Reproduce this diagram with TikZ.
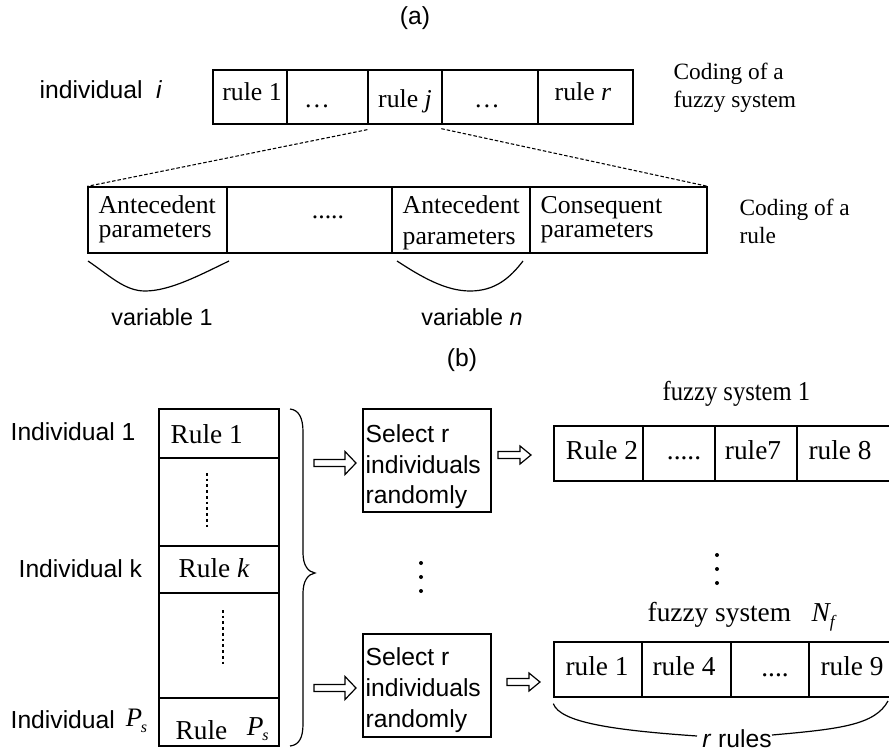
\documentclass[tikz,border=0pt]{standalone}
\usepackage{fontspec}
\setmainfont{Liberation Serif}
\setsansfont{Liberation Sans}
\usetikzlibrary{fit}
\newcommand{\myPs}{\textit{P}\kern-1pt\raisebox{-4pt}{\fontsize{12}{12}\selectfont\textit{s}}}
\newcommand{\myNf}{\textit{N}\kern-1pt\raisebox{-5pt}{\fontsize{13}{13}\selectfont\textit{f}}}
\newcommand{\hollowarrow}[5]{%
  \draw[line width=0.9pt,fill=white] (#1,{#3-3.5}) -- ({#2-#4},{#3-3.5}) -- ({#2-#4},{#3-#5}) -- (#2,#3)
    -- ({#2-#4},{#3+#5}) -- ({#2-#4},{#3+3.5}) -- (#1,{#3+3.5}) -- cycle;}
\begin{document}
\begin{tikzpicture}[x=0.75pt,y=-0.75pt,line width=1pt,
  cell/.style={draw,inner sep=0pt,line width=1pt},
  sanslbl/.style={font=\fontsize{18.5}{22}\selectfont\sffamily,inner sep=0pt},
  smallsans/.style={font=\fontsize{17.5}{22}\selectfont\sffamily,inner sep=0pt},
  toptxt/.style={font=\fontsize{19.3}{22}\selectfont,inner sep=0pt},
  bottxt/.style={font=\fontsize{20.5}{22}\selectfont,inner sep=0pt},
  codetxt/.style={font=\fontsize{17.5}{22}\selectfont,inner sep=0pt,anchor=base west},
  dashedline/.style={line width=0.8pt,dash pattern=on 2.6pt off 1.5pt},
  dotline/.style={line width=2.1pt,dash pattern=on 2pt off 2.3pt},
  edot/.style={fill=black,circle,inner sep=0pt,minimum size=3pt}]
\useasboundingbox (0,0) rectangle (889,753);
\clip (0,0) rectangle (889,753);

% ---------- (a) ----------
\node[sanslbl,anchor=base] (la) at (415,24) {(a)};
\node[sanslbl,anchor=base west] (indi) at (39,98) {individual\ \ \textit{i}};

\node[cell,fit={(213,70)(287,124)}] (t1) {};
\node[cell,fit={(287,70)(368,124)}] (t2) {};
\node[cell,fit={(368,70)(442,124)}] (t3) {};
\node[cell,fit={(442,70)(538,124)}] (t4) {};
\node[cell,fit={(538,70)(633,124)}] (t5) {};
\node[toptxt,anchor=base] (t1l) at (252,100) {rule 1};
\node[toptxt,anchor=base] (t2l) at (317,107) {\dots};
\node[toptxt,anchor=base] (t3l) at (405,107) {rule \textit{j}};
\node[toptxt,anchor=base] (t4l) at (487,107) {\dots};
\node[toptxt,anchor=base] (t5l) at (583,100) {rule \textit{r}};
\node[codetxt] (cf1) at (673,79) {Coding of a};
\node[codetxt] (cf2) at (673,107) {fuzzy system};

\node[cell,fit={(88,187)(227,253)}] (a1) {};
\node[cell,fit={(227,187)(392,253)}] (a2) {};
\node[cell,fit={(392,187)(530,253)}] (a3) {};
\node[cell,fit={(530,187)(707,253)}] (a4) {};
\node[toptxt,anchor=base west] (a1l1) at (98,213) {Antecedent};
\node[toptxt,anchor=base west] (a1l2) at (98,237) {parameters};
\node[toptxt,anchor=base] (a2l) at (328,218) {.....};
\node[toptxt,anchor=base west] (a3l1) at (402,213) {Antecedent};
\node[toptxt,anchor=base west] (a3l2) at (402,244) {parameters};
\node[toptxt,anchor=base west] (a4l1) at (540,213) {Consequent};
\node[toptxt,anchor=base west] (a4l2) at (540,237) {parameters};
\node[codetxt] (cr1) at (739,215) {Coding of a};
\node[codetxt] (cr2) at (739,243) {rule};

\draw[dashedline] (t3.south west) ++(0,5) -- (a1.north west);
\draw[dashedline] (t4.south west) ++(0,4) -- (a4.north east);

\draw[line width=0.9pt] (88,261) .. controls (110,276) and (125,291) .. (145,291)
   .. controls (170,291) and (200,275) .. (229,261);
\draw[line width=0.9pt] (397,261) .. controls (420,276) and (445,291) .. (470,291)
   .. controls (495,291) and (510,278) .. (523,261);
\node[smallsans,anchor=base] (v1) at (162,325) {variable 1};
\node[smallsans,anchor=base] (vn) at (472,325) {variable \textit{n}};

% ---------- (b) ----------
\node[sanslbl,anchor=base] (lb) at (462,366) {(b)};

\node[cell,fit={(159,409)(279,458)}] (c1) {};
\node[cell,fit={(159,458)(279,546)}] (c2) {};
\node[cell,fit={(159,546)(279,593)}] (c3) {};
\node[cell,fit={(159,593)(279,698)}] (c4) {};
\node[cell,fit={(159,698)(279,746)}] (c5) {};
\node[bottxt,anchor=base west] (c1l) at (170,443) {Rule 1};
\node[bottxt,anchor=base west] (c3l) at (178,577) {Rule \textit{k}};
\node[bottxt,anchor=base west] (c5l) at (175,739) {Rule\hspace{0.72em}\raisebox{3pt}{\myPs}};
\draw[dotline] (207,473) -- (207,527);
\draw[dotline] (223,610) -- (223,664);

\node[sanslbl,anchor=base west] (i1) at (10,440) {Individual 1};
\node[sanslbl,anchor=base west] (ik) at (18,577) {Individual k};
\node[sanslbl,anchor=base west] (ip) at (10,728) {Individual\hspace{0.45em}{\rmfamily\fontsize{20}{22}\selectfont\raisebox{1pt}{\myPs}}};

\draw[line width=0.9pt] (290,409) .. controls (299,410) and (303,418) .. (303,432) -- (303,553)
  .. controls (303,565) and (308,572) .. (315,573) .. controls (308,574) and (303,581) .. (303,593)
  -- (303,724) .. controls (303,738) and (299,745) .. (290,746);

\hollowarrow{314}{356}{463}{11}{11.5}
\hollowarrow{314}{356}{688}{11}{11.5}

\node[cell,fit={(363,409)(491,512)}] (s1) {};
\node[cell,fit={(363,634)(491,737)}] (s2) {};
\node[sanslbl,anchor=base west] (s1a) at (365,442) {Select r};
\node[sanslbl,anchor=base west] (s1b) at (365,473) {individuals};
\node[sanslbl,anchor=base west] (s1c) at (365,503) {randomly};
\node[sanslbl,anchor=base west] (s2a) at (365,665) {Select r};
\node[sanslbl,anchor=base west] (s2b) at (365,696) {individuals};
\node[sanslbl,anchor=base west] (s2c) at (365,727) {randomly};

\node[edot] (m1) at (421,563) {};
\node[edot] (m2) at (421,577) {};
\node[edot] (m3) at (421,591) {};

\hollowarrow{498}{531}{455}{11}{9}
\hollowarrow{507}{540}{682}{11}{9}

\node[bottxt,anchor=base west] (fs1) at (662,400) {\scalebox{0.9}[1]{fuzzy system 1}};
\node[cell,fit={(554,426)(643,481)}] (u1) {};
\node[cell,fit={(643,426)(715,481)}] (u2) {};
\node[cell,fit={(715,426)(797,481)}] (u3) {};
\node[cell,fit={(797,426)(905,481)}] (u4) {};
\node[bottxt,anchor=base] (u1l) at (602,459) {Rule 2};
\node[bottxt,anchor=base] (u2l) at (684,459) {.....};
\node[bottxt,anchor=base] (u3l) at (753,459) {rule7};
\node[bottxt,anchor=base] (u4l) at (840,459) {rule 8};

\node[edot] (n1) at (717,555) {};
\node[edot] (n2) at (717,569) {};
\node[edot] (n3) at (717,583) {};

\node[bottxt,anchor=base west] (fsn) at (647,621) {fuzzy system\hspace{0.75em}\myNf};
\node[cell,fit={(554,642)(642,697)}] (w1) {};
\node[cell,fit={(642,642)(731,697)}] (w2) {};
\node[cell,fit={(731,642)(809,697)}] (w3) {};
\node[cell,fit={(809,642)(905,697)}] (w4) {};
\node[bottxt,anchor=base] (w1l) at (597,675) {rule 1};
\node[bottxt,anchor=base] (w2l) at (684,675) {rule 4};
\node[bottxt,anchor=base] (w3l) at (775,676) {....};
\node[bottxt,anchor=base] (w4l) at (852,675) {rule 9};

\node[sanslbl,anchor=base] (rr) at (737,747) {\textit{r} rules};
\draw[line width=0.9pt] (w1.south west) ++(0,6) .. controls (560,722) and (610,730) .. (697,736);
\draw[line width=0.9pt] (772,735) .. controls (840,729) and (875,725) .. (888,701);
\end{tikzpicture}
\end{document}
